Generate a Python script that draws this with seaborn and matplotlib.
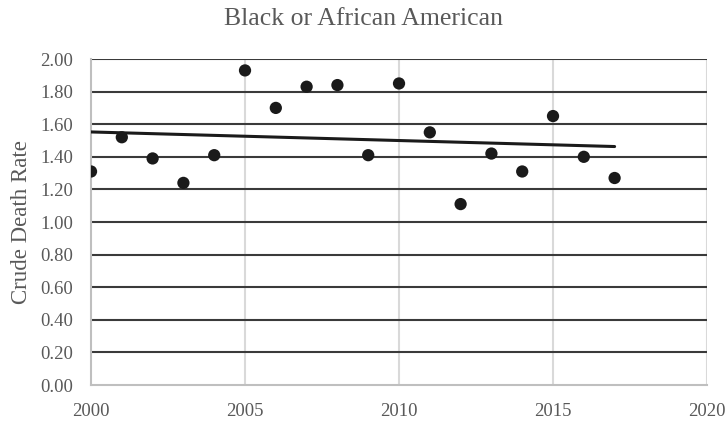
import matplotlib
matplotlib.use("Agg")
import matplotlib.pyplot as plt
import seaborn as sns
import pandas as pd
import numpy as np

# Crude death rate by year
years = [2000, 2001, 2002, 2003, 2004, 2005, 2006, 2007, 2008,
         2009, 2010, 2011, 2012, 2013, 2014, 2015, 2016, 2017]
rates = [1.31, 1.52, 1.39, 1.24, 1.41, 1.93, 1.70, 1.83, 1.84,
         1.41, 1.85, 1.55, 1.11, 1.42, 1.31, 1.65, 1.40, 1.27]
x_ticks = [2000, 2005, 2010, 2015, 2020]
y_ticks = [0.0, 0.2, 0.4, 0.6, 0.8, 1.0, 1.2, 1.4, 1.6, 1.8, 2.0]

df = pd.DataFrame({"Year": years, "Rate": rates})

sns.set_theme(style="white")
plt.rcParams["font.family"] = ["Liberation Serif", "DejaVu Serif"]

text_color = "#595959"
fig = plt.figure(figsize=(7.27, 4.23), dpi=100)
ax = fig.add_axes([0.1252, 0.0898, 0.8473, 0.7707])

sns.regplot(data=df, x="Year", y="Rate", ax=ax, ci=None, truncate=True,
            scatter_kws=dict(s=78, color="#1a1a1a", edgecolor="none", zorder=4, alpha=1),
            line_kws=dict(color="#1a1a1a", lw=2.2, zorder=3))

ax.set_xlim(2000, 2020)
ax.set_ylim(0, 2.0)
ax.set_xticks(x_ticks)
ax.set_yticks(y_ticks)
ax.set_yticklabels([f"{v:.2f}" for v in y_ticks])

# Grid: dark horizontal lines, light vertical lines
for v in y_ticks[1:]:
    ax.axhline(v, color="#3a3a3a", lw=1.5, zorder=1)
for v in x_ticks[1:]:
    ax.axvline(v, color="#d9d9d9", lw=1.5, zorder=0)

for side in ["top", "right"]:
    ax.spines[side].set_visible(False)
for side in ["left", "bottom"]:
    ax.spines[side].set_color("#bfbfbf")
    ax.spines[side].set_linewidth(1.5)

ax.tick_params(axis="both", length=0, labelsize=13.5, colors=text_color)
ax.tick_params(axis="x", pad=13)
ax.tick_params(axis="y", pad=13)
ax.set_xlabel("")
ax.set_ylabel("Crude Death Rate", fontsize=16.5, color=text_color, labelpad=6)
fig.text(0.5, 1 - 25 / 423, "Black or African American", fontsize=18.5,
         color=text_color, ha="center", va="baseline")

fig.savefig("out.png", dpi=100)
